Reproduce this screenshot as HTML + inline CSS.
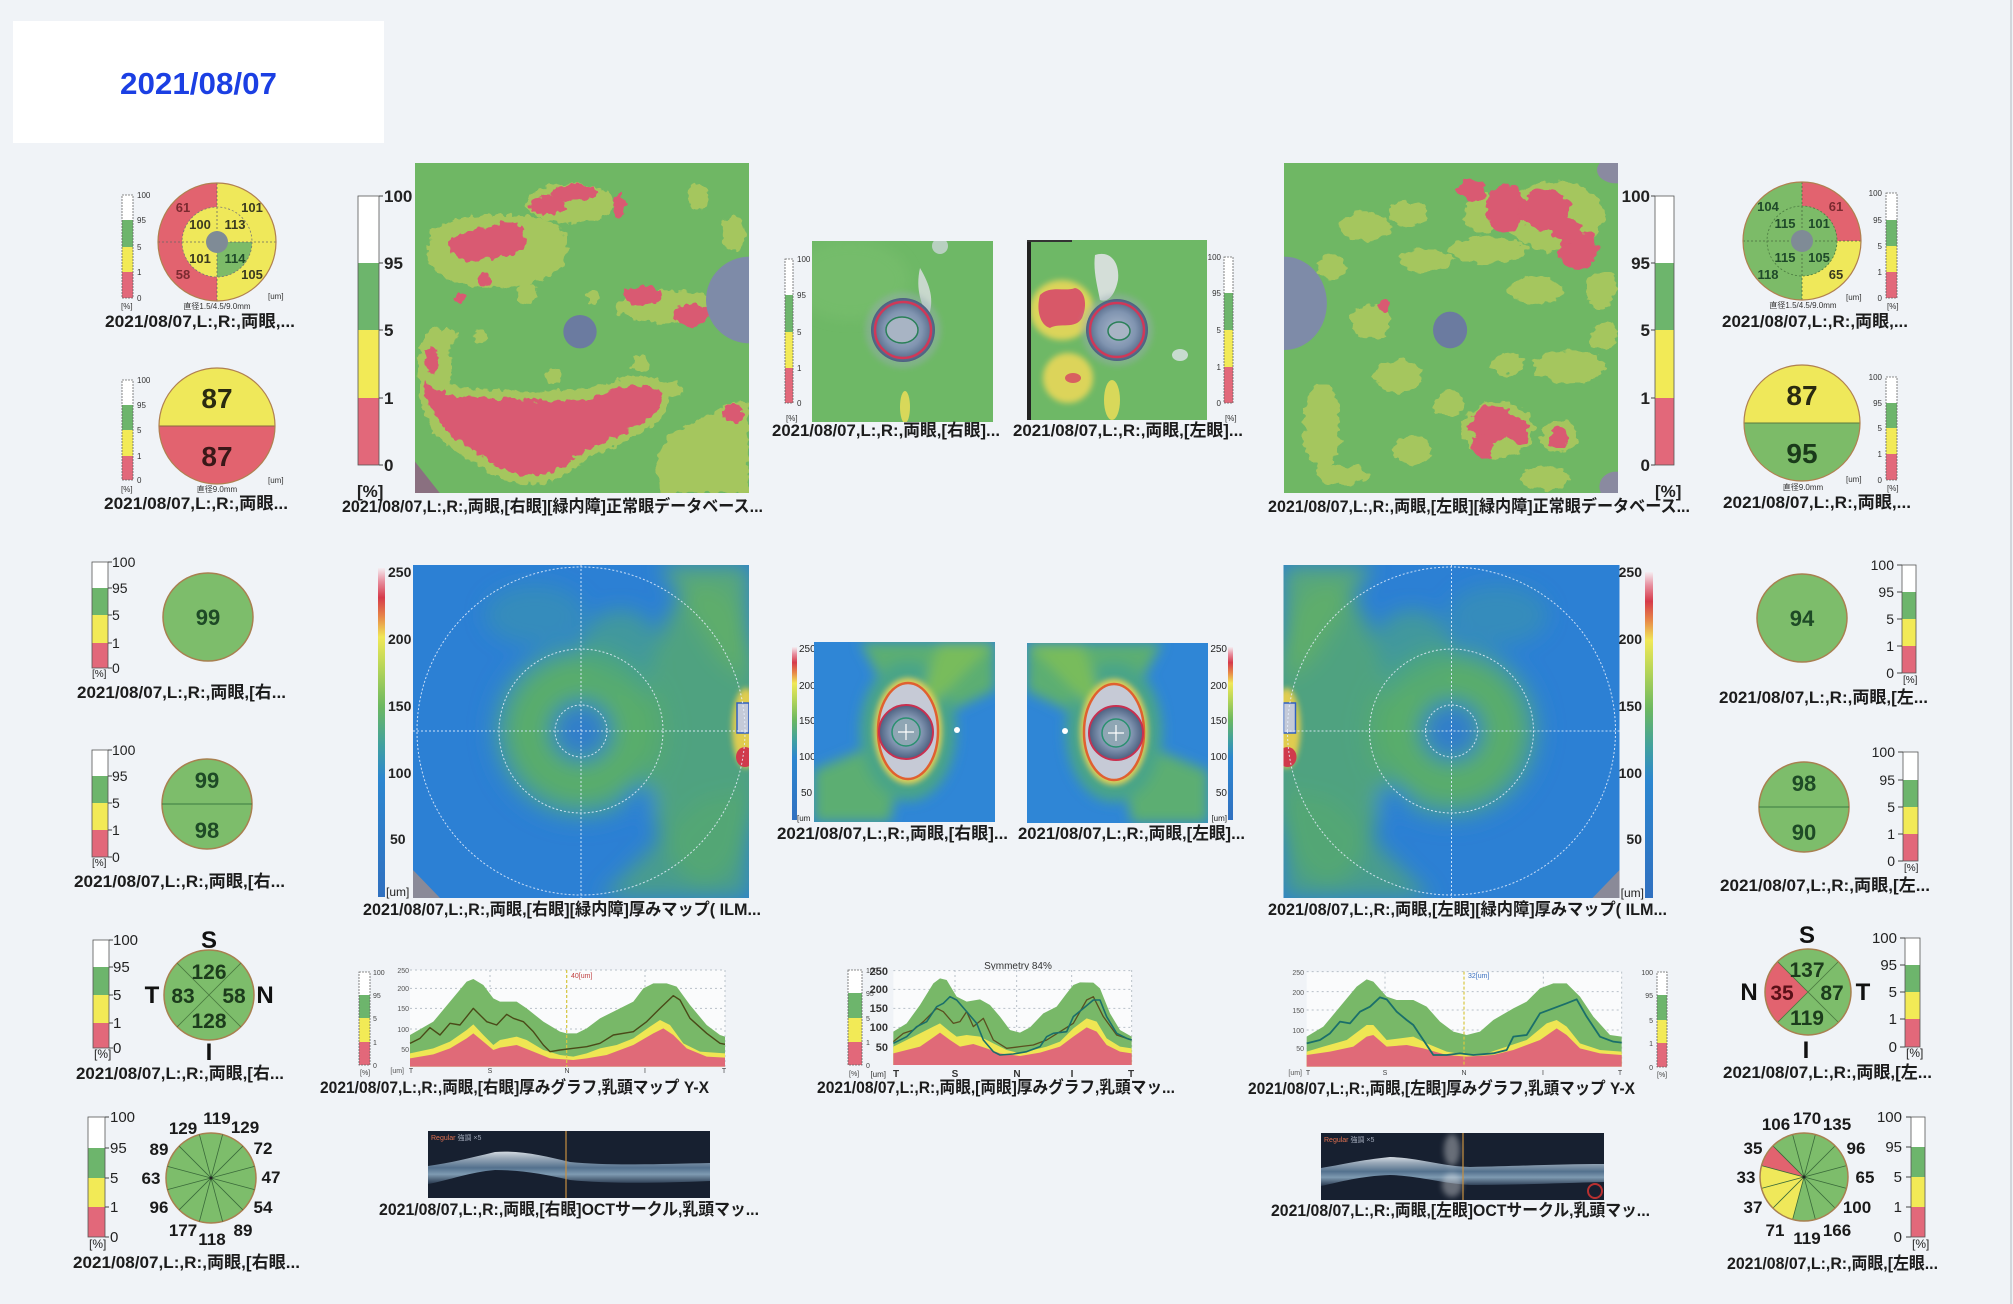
<!DOCTYPE html>
<html><head><meta charset="utf-8">
<style>
html,body{margin:0;padding:0;background:#f0f3f7;}
svg{display:block}
.c{font-family:"Liberation Sans","Noto Sans CJK JP",sans-serif;font-weight:bold;font-size:17px;fill:#1c1c1c}
.n{font-family:"Liberation Sans","Noto Sans CJK JP",sans-serif}
.b{font-weight:bold}
.w{fill:#fff}.g{fill:#6db56c}.y{fill:#f2ea56}.r{fill:#e2687a}
.o{fill:none;stroke:#555;stroke-width:.8}
.od{fill:none;stroke:#666;stroke-width:.8;stroke-dasharray:2 1}
.ns{vector-effect:non-scaling-stroke}
</style></head><body>
<svg width="2013" height="1304" viewBox="0 0 2013 1304" xmlns="http://www.w3.org/2000/svg">
<defs>
<filter id="rag" x="-20%" y="-20%" width="140%" height="140%"><feTurbulence type="fractalNoise" baseFrequency="0.045" numOctaves="2" seed="4" result="t"/><feDisplacementMap in="SourceGraphic" in2="t" scale="30" xChannelSelector="R" yChannelSelector="G"/></filter>
<filter id="bl10" x="-40%" y="-40%" width="180%" height="180%"><feGaussianBlur stdDeviation="10"/></filter>
<filter id="bl6" x="-40%" y="-40%" width="180%" height="180%"><feGaussianBlur stdDeviation="6"/></filter>
<filter id="bl3" x="-40%" y="-40%" width="180%" height="180%"><feGaussianBlur stdDeviation="3"/></filter>
<linearGradient id="tg" x1="0" y1="0" x2="0" y2="1">
<stop offset="0" stop-color="#f4eef2"/><stop offset=".04" stop-color="#e890a0"/><stop offset=".09" stop-color="#d63a4a"/><stop offset=".15" stop-color="#e88a48"/><stop offset=".21" stop-color="#f0e858"/><stop offset=".3" stop-color="#b8d658"/><stop offset=".42" stop-color="#6cb860"/><stop offset=".54" stop-color="#40a0a0"/><stop offset=".64" stop-color="#2c86d0"/><stop offset="1" stop-color="#3070c0"/>
</linearGradient>
<radialGradient id="ringT" cx=".5" cy=".5" r=".5">
<stop offset="0" stop-color="#2f7ccc"/><stop offset=".26" stop-color="#3280c8"/><stop offset=".32" stop-color="#45a090"/><stop offset=".45" stop-color="#5cae68"/><stop offset=".7" stop-color="#58ac6c"/><stop offset=".88" stop-color="#3f96a8"/><stop offset="1" stop-color="#2c80d4" stop-opacity="0"/>
</radialGradient>
<radialGradient id="dg" cx=".5" cy=".5" r=".5">
<stop offset="0" stop-color="#aab8cc"/><stop offset=".6" stop-color="#8094b0"/><stop offset="1" stop-color="#4c6080"/>
</radialGradient>
<linearGradient id="octg" x1="0" y1="0" x2="0" y2="1">
<stop offset="0" stop-color="#e8eef4"/><stop offset=".2" stop-color="#a8b8c8"/><stop offset=".5" stop-color="#5a7a98"/><stop offset=".7" stop-color="#8aa8c0"/><stop offset="1" stop-color="#2a3a50"/>
</linearGradient>
<clipPath id="cm1"><rect x="415" y="163" width="334" height="330"/></clipPath>
<clipPath id="cm2"><rect x="1284" y="163" width="334" height="330"/></clipPath>
<clipPath id="cda"><rect x="812" y="241" width="181" height="181"/></clipPath>
<clipPath id="cdb"><rect x="1027" y="240" width="180" height="180"/></clipPath>
<clipPath id="ct1"><rect x="413" y="565" width="336" height="333"/></clipPath>
<clipPath id="cta"><rect x="814" y="642" width="181" height="180"/></clipPath>

<g id="T1"><g clip-path="url(#ct1)">
<rect x="413" y="565" width="336" height="333" fill="#2c80d4"/>
<g filter="url(#bl10)">
<circle cx="581" cy="731" r="95" fill="url(#ringT)"/>
<ellipse cx="705" cy="735" rx="60" ry="150" fill="#58ab6a" opacity=".8"/>
<path d="M600,898 L700,800 L749,790 L749,898 Z" fill="#56a870" opacity=".7"/>
<path d="M660,565 L749,565 L749,680 L720,660 Z" fill="#62b066" opacity=".8"/>
<ellipse cx="640" cy="800" rx="16" ry="11" fill="#2c80d4"/>
<ellipse cx="535" cy="615" rx="50" ry="30" fill="#3c98a4" opacity=".5"/>
<ellipse cx="620" cy="650" rx="40" ry="40" fill="#50a878" opacity=".6"/>
</g>
<ellipse cx="746" cy="728" rx="14" ry="40" fill="#e0cc50" filter="url(#bl3)"/>
<rect x="737" y="703" width="12" height="30" fill="#c4cad8" stroke="#3060c0" stroke-width="1.5"/>
<ellipse cx="745" cy="757" rx="9" ry="10" fill="#d03a4c"/>
<path d="M413,870 L440,898 L413,898 Z" fill="#8a8a98"/>
<g fill="none" stroke="#e8f0ff" stroke-width="1" stroke-dasharray="2 2" opacity=".85">
<circle cx="581" cy="731" r="164"/><circle cx="581" cy="731" r="82"/><circle cx="581" cy="731" r="26"/>
<path d="M413,731H749M581,565V898"/>
</g>
</g></g>

<g id="TA"><g clip-path="url(#cta)">
<rect x="814" y="642" width="181" height="180" fill="#2f86d6"/>
<g filter="url(#bl6)">
<path d="M908,731 L860,642 L995,642 L995,690 Z" fill="#5cae72"/>
<path d="M908,731 L814,770 L814,822 L890,822 Z" fill="#5cae72"/>
<ellipse cx="908" cy="731" rx="48" ry="70" fill="#4aa488"/>
<path d="M908,731 L940,642 L995,642 Z" fill="#78bc5c"/>
</g>
<ellipse cx="908" cy="731" rx="34" ry="53" fill="#e2d058" filter="url(#bl3)"/>
<ellipse cx="908" cy="731" rx="30" ry="48" fill="#c6cad6" stroke="#e06030" stroke-width="2.5"/>
<circle cx="906" cy="732" r="27" fill="url(#dg)" stroke="#c83050" stroke-width="2"/>
<circle cx="906" cy="732" r="14" fill="#8fa6b4" stroke="#2a9070" stroke-width="1.5"/>
<path d="M906,724v16M898,732h16" stroke="#fff" stroke-width="1.2"/>
<circle cx="957" cy="730" r="3" fill="#fff"/>
</g></g>
</defs>

<rect x="0" y="0" width="2013" height="1304" fill="#f0f3f7"/>
<line x1="2011" y1="0" x2="2011" y2="1304" stroke="#c8ccd2" stroke-width="1.5"/>

<!-- date box -->
<rect x="13" y="21" width="371" height="122" fill="#fff"/>
<text x="120" y="94" class="n b" font-size="31" fill="#1b3fe3" textLength="157" lengthAdjust="spacingAndGlyphs">2021/08/07</text>

<!-- ============ TOP LEFT DONUT ============ -->
<g>
<rect class="w" x="122" y="195" width="11" height="25"/><rect class="g" x="122" y="220" width="11" height="27"/><rect class="y" x="122" y="247" width="11" height="25"/><rect class="r" x="122" y="272" width="11" height="26"/><rect class="od" x="122" y="195" width="11" height="103"/>
<g class="n" font-size="8" fill="#333"><text x="137" y="198">100</text><text x="137" y="223">95</text><text x="137" y="250">5</text><text x="137" y="275">1</text><text x="137" y="301">0</text><text x="121" y="309">[%]</text></g>
<path d="M217,183 A59,59 0 0,0 217,301 Z" fill="#e2636f"/>
<path d="M217,183 A59,59 0 0,1 217,301 Z" fill="#efe85a"/>
<path d="M217,242 L182,242 A35,35 0 0,1 217,207 Z" fill="#efe85a"/>
<path d="M217,242 L217,207 A35,35 0 0,1 252,242 Z" fill="#efe85a"/>
<path d="M217,242 L252,242 A35,35 0 0,1 217,277 Z" fill="#7cbb68"/>
<path d="M217,242 L217,277 A35,35 0 0,1 182,242 Z" fill="#efe85a"/>
<circle cx="217" cy="242" r="35" fill="none" stroke="#777" stroke-width=".8" stroke-dasharray="2 2"/>
<path d="M158,242H276M217,183V301" stroke="#666" stroke-width=".8" stroke-dasharray="2 2"/>
<circle cx="217" cy="242" r="11" fill="#7f8b96"/>
<circle cx="217" cy="242" r="59" fill="none" stroke="#b08050" stroke-width="1.2"/>
<g class="n b" font-size="13" text-anchor="middle">
<text x="183" y="212" fill="#7b2a30">61</text><text x="252" y="212" fill="#3a3a20">101</text>
<text x="200" y="229" fill="#3a3a20">100</text><text x="235" y="229" fill="#3a3a20">113</text>
<text x="200" y="263" fill="#3a3a20">101</text><text x="235" y="263" fill="#1f4a2a">114</text>
<text x="183" y="279" fill="#7b2a30">58</text><text x="252" y="279" fill="#3a3a20">105</text>
</g>
<text x="217" y="309" class="n" font-size="8" text-anchor="middle" fill="#333">直径1.5/4.5/9.0mm</text>
<text x="268" y="299" class="n" font-size="8" fill="#333">[um]</text>
</g>
<text x="105" y="327" class="c" textLength="190" lengthAdjust="spacingAndGlyphs">2021/08/07,L:,R:,両眼,...</text>

<!-- TOP LEFT HALF -->
<g>
<rect class="w" x="122" y="380" width="11" height="25"/><rect class="g" x="122" y="405" width="11" height="25"/><rect class="y" x="122" y="430" width="11" height="26"/><rect class="r" x="122" y="456" width="11" height="24"/><rect class="od" x="122" y="380" width="11" height="100"/>
<g class="n" font-size="8" fill="#333"><text x="137" y="383">100</text><text x="137" y="408">95</text><text x="137" y="433">5</text><text x="137" y="459">1</text><text x="137" y="483">0</text><text x="121" y="492">[%]</text></g>
<path d="M159,426 A58,58 0 0,1 275,426 Z" fill="#efe85a"/>
<path d="M159,426 A58,58 0 0,0 275,426 Z" fill="#e2636f"/>
<line x1="159" y1="426" x2="275" y2="426" stroke="#8a6a40" stroke-width="1"/>
<circle cx="217" cy="426" r="58" fill="none" stroke="#b08050" stroke-width="1.2"/>
<text x="217" y="408" class="n b" font-size="28" text-anchor="middle" fill="#2a2a10">87</text>
<text x="217" y="466" class="n b" font-size="28" text-anchor="middle" fill="#3a1818">87</text>
<text x="217" y="492" class="n" font-size="8" text-anchor="middle" fill="#333">直径9.0mm</text>
<text x="268" y="483" class="n" font-size="8" fill="#333">[um]</text>
</g>
<text x="104" y="509" class="c" textLength="184" lengthAdjust="spacingAndGlyphs">2021/08/07,L:,R:,両眼...</text>

<!-- ============ MAP 1 ============ -->
<rect class="w" x="358" y="196" width="21" height="67"/><rect class="g" x="358" y="263" width="21" height="67"/><rect class="y" x="358" y="330" width="21" height="68"/><rect class="r" x="358" y="398" width="21" height="67"/><rect class="o" x="358" y="196" width="21" height="269"/>
<path d="M379,196h4M379,263h4M379,330h4M379,398h4M379,465h4" stroke="#444"/>
<g class="n b" font-size="17" fill="#222"><text x="384" y="202">100</text><text x="384" y="269">95</text><text x="384" y="336">5</text><text x="384" y="404">1</text><text x="384" y="471">0</text><text x="357" y="497">[%]</text></g>
<g clip-path="url(#cm1)">
<rect x="415" y="163" width="334" height="330" fill="#6fb764"/>
<g transform="translate(340,150) scale(0.33333)">
<g filter="url(#rag)" fill="#d2d45a" opacity=".55">
<path d="M270,240 C340,195 480,185 600,205 C680,220 700,290 670,345 C620,400 520,420 430,412 C340,405 270,370 262,320 Z"/>
<ellipse cx="690" cy="160" rx="130" ry="60"/>
<ellipse cx="285" cy="650" rx="50" ry="120"/>
<path d="M240,670 C300,710 380,718 480,718 C600,728 720,728 800,700 C870,672 940,672 990,705 C1005,780 940,830 875,865 C800,895 740,925 690,965 C620,1015 520,1015 455,970 C385,930 305,885 268,820 C240,770 232,720 240,670 Z"/>
<ellipse cx="980" cy="470" rx="150" ry="50"/>
<path d="M960,890 C1010,830 1080,810 1150,770 C1200,745 1225,750 1225,770 L1225,1030 L970,1030 C945,980 945,930 960,890 Z"/>
<ellipse cx="1075" cy="140" rx="30" ry="40"/>
<ellipse cx="1180" cy="250" rx="35" ry="55"/>
<circle cx="560" cy="430" r="30"/><circle cx="640" cy="680" r="22"/><circle cx="900" cy="640" r="25"/><circle cx="330" cy="560" r="25"/><circle cx="1000" cy="720" r="25"/><circle cx="420" cy="560" r="20"/><circle cx="760" cy="440" r="20"/>
</g>
<g filter="url(#rag)" fill="#d95a72">
<path d="M258,690 C300,740 380,748 480,745 C600,758 720,758 800,728 C860,700 930,700 968,728 C985,770 930,815 860,845 C790,878 730,900 690,935 C630,985 530,990 465,945 C400,905 330,865 292,805 C262,760 250,725 258,690 Z"/>
<path d="M330,268 C380,242 445,232 498,214 C548,212 572,258 548,300 C502,322 432,330 372,336 C332,322 318,296 330,268 Z"/>
<ellipse cx="625" cy="165" rx="55" ry="30"/><ellipse cx="705" cy="128" rx="70" ry="25"/><ellipse cx="838" cy="165" rx="18" ry="38"/>
<ellipse cx="905" cy="437" rx="55" ry="30"/><ellipse cx="1055" cy="495" rx="55" ry="35"/>
<ellipse cx="275" cy="630" rx="22" ry="40"/>
<circle cx="1180" cy="790" r="28"/><circle cx="430" cy="390" r="20"/><circle cx="360" cy="440" r="15"/>
</g>
<circle cx="720" cy="545" r="50" fill="#6b7ba0"/>
<circle cx="1228" cy="450" r="130" fill="#7e8ba8"/>
<path d="M225,935 L300,1030 L225,1030 Z" fill="#8a7080"/>
</g>
</g>
<text x="342" y="512" class="c" textLength="421" lengthAdjust="spacingAndGlyphs">2021/08/07,L:,R:,両眼,[右眼][緑内障]正常眼データベース...</text>

<!-- ============ DISC MAP A (top) ============ -->
<rect class="w" x="785" y="259" width="8" height="36"/><rect class="g" x="785" y="295" width="8" height="37"/><rect class="y" x="785" y="332" width="8" height="36"/><rect class="r" x="785" y="368" width="8" height="35"/><rect class="od" x="785" y="259" width="8" height="144"/>
<g class="n" font-size="8" fill="#333"><text x="797" y="262">100</text><text x="797" y="298">95</text><text x="797" y="335">5</text><text x="797" y="371">1</text><text x="797" y="406">0</text><text x="786" y="421">[%]</text></g>
<g clip-path="url(#cda)">
<rect x="812" y="241" width="181" height="181" fill="#6eb866"/>
<ellipse cx="850" cy="280" rx="60" ry="40" fill="#7cc070" opacity=".5" filter="url(#bl6)"/>
<path d="M920,268 C930,285 935,300 928,318 C922,305 915,290 920,268 Z" fill="#c8d8cc"/>
<ellipse cx="940" cy="246" rx="8" ry="8" fill="#b8d0c0"/>
<ellipse cx="905" cy="407" rx="5" ry="16" fill="#d8d85a"/>
<circle cx="903" cy="330" r="38" fill="#9aacb4" opacity=".45" filter="url(#bl3)"/>
<circle cx="903" cy="330" r="32" fill="url(#dg)"/>
<circle cx="903" cy="330" r="28" fill="none" stroke="#d03858" stroke-width="2.5"/>
<ellipse cx="902" cy="330" rx="16" ry="13" fill="#a8b4c4" stroke="#2a8058" stroke-width="1.5"/>
</g>
<text x="772" y="436" class="c" textLength="228" lengthAdjust="spacingAndGlyphs">2021/08/07,L:,R:,両眼,[右眼]...</text>

<!-- ============ DISC MAP B (top) ============ -->
<rect class="w" x="1224" y="257" width="9" height="36"/><rect class="g" x="1224" y="293" width="9" height="37"/><rect class="y" x="1224" y="330" width="9" height="37"/><rect class="r" x="1224" y="367" width="9" height="36"/><rect class="od" x="1224" y="257" width="9" height="146"/>
<g class="n" font-size="8" fill="#333" text-anchor="end"><text x="1221" y="260">100</text><text x="1221" y="296">95</text><text x="1221" y="333">5</text><text x="1221" y="370">1</text><text x="1221" y="406">0</text></g>
<text x="1225" y="421" class="n" font-size="8" fill="#333">[%]</text>
<g clip-path="url(#cdb)">
<rect x="1027" y="240" width="180" height="180" fill="#6eb866"/>
<ellipse cx="1062" cy="310" rx="32" ry="30" fill="#dcd45a" filter="url(#bl3)"/>
<path d="M1040,295 C1050,285 1065,292 1075,288 C1085,290 1088,305 1082,318 C1075,330 1060,322 1050,328 C1040,325 1036,310 1040,295 Z" fill="#d85868"/>
<ellipse cx="1068" cy="378" rx="25" ry="25" fill="#dcd45a" filter="url(#bl3)"/>
<ellipse cx="1073" cy="378" rx="8" ry="5" fill="#d86060"/>
<ellipse cx="1112" cy="400" rx="8" ry="20" fill="#d8d85a"/>
<path d="M1095,255 C1110,250 1120,262 1118,280 C1115,295 1108,303 1100,300 C1097,285 1093,270 1095,255 Z" fill="#d4ded8"/>
<ellipse cx="1180" cy="355" rx="8" ry="6" fill="#c8dcd0"/>
<circle cx="1117" cy="330" r="36" fill="#9aacb4" opacity=".45" filter="url(#bl3)"/>
<circle cx="1117" cy="330" r="31" fill="url(#dg)"/>
<circle cx="1117" cy="330" r="27" fill="none" stroke="#d03858" stroke-width="2.5"/>
<ellipse cx="1119" cy="331" rx="11" ry="9" fill="#a8b4c4" stroke="#2a8058" stroke-width="1.5"/>
<rect x="1027" y="240" width="4" height="180" fill="#222"/>
<rect x="1027" y="240" width="45" height="2" fill="#333"/>
</g>
<text x="1013" y="436" class="c" textLength="230" lengthAdjust="spacingAndGlyphs">2021/08/07,L:,R:,両眼,[左眼]...</text>

<!-- ============ MAP 2 ============ -->
<rect class="w" x="1655" y="196" width="19" height="67"/><rect class="g" x="1655" y="263" width="19" height="67"/><rect class="y" x="1655" y="330" width="19" height="68"/><rect class="r" x="1655" y="398" width="19" height="67"/><rect class="o" x="1655" y="196" width="19" height="269"/>
<path d="M1655,196h-4M1655,263h-4M1655,330h-4M1655,398h-4M1655,465h-4" stroke="#444"/>
<g class="n b" font-size="17" fill="#222" text-anchor="end"><text x="1650" y="202">100</text><text x="1650" y="269">95</text><text x="1650" y="336">5</text><text x="1650" y="404">1</text><text x="1650" y="471">0</text></g>
<text x="1655" y="497" class="n b" font-size="17" fill="#222">[%]</text>
<g clip-path="url(#cm2)">
<rect x="1284" y="163" width="334" height="330" fill="#6fb764"/>
<g transform="translate(1270,150) scale(0.4739,0.33333)">
<g filter="url(#rag)" fill="#d2d45a" opacity=".55">
<ellipse cx="200" cy="230" rx="55" ry="45"/><ellipse cx="290" cy="190" rx="40" ry="35"/><ellipse cx="215" cy="515" rx="45" ry="50"/><ellipse cx="270" cy="680" rx="50" ry="50"/><ellipse cx="110" cy="830" rx="40" ry="130"/><ellipse cx="150" cy="975" rx="55" ry="30"/><ellipse cx="460" cy="300" rx="80" ry="40"/><ellipse cx="560" cy="420" rx="55" ry="40"/><ellipse cx="630" cy="650" rx="75" ry="50"/><ellipse cx="330" cy="330" rx="55" ry="35"/><ellipse cx="300" cy="900" rx="40" ry="45"/><ellipse cx="500" cy="640" rx="35" ry="35"/><ellipse cx="705" cy="560" rx="28" ry="40"/><ellipse cx="580" cy="985" rx="50" ry="35"/><ellipse cx="450" cy="190" rx="40" ry="60"/><ellipse cx="600" cy="200" rx="105" ry="105"/><ellipse cx="480" cy="840" rx="75" ry="85"/><ellipse cx="610" cy="860" rx="38" ry="50"/><ellipse cx="130" cy="350" rx="28" ry="36"/><ellipse cx="380" cy="760" rx="32" ry="36"/><ellipse cx="700" cy="420" rx="32" ry="55"/>
</g>
<g filter="url(#rag)" fill="#d95a72">
<ellipse cx="425" cy="120" rx="28" ry="35"/><ellipse cx="495" cy="175" rx="40" ry="75"/><ellipse cx="580" cy="180" rx="55" ry="60"/><ellipse cx="650" cy="300" rx="40" ry="60"/><ellipse cx="625" cy="240" rx="30" ry="40"/><ellipse cx="470" cy="820" rx="50" ry="55"/><ellipse cx="448" cy="890" rx="22" ry="40"/><ellipse cx="525" cy="845" rx="22" ry="35"/><ellipse cx="610" cy="865" rx="20" ry="35"/><ellipse cx="240" cy="470" rx="12" ry="20"/>
</g>
<ellipse cx="380" cy="540" rx="36" ry="55" fill="#6b7ba0"/>
<ellipse cx="30" cy="460" rx="90" ry="140" fill="#7e8ba8"/>
<ellipse cx="730" cy="60" rx="40" ry="40" fill="#8a8aa0"/>
<ellipse cx="730" cy="1010" rx="35" ry="45" fill="#8a8aa0"/>
</g>
</g>
<text x="1268" y="512" class="c" textLength="422" lengthAdjust="spacingAndGlyphs">2021/08/07,L:,R:,両眼,[左眼][緑内障]正常眼データベース...</text>

<!-- ============ TOP RIGHT DONUT ============ -->
<rect class="w" x="1886" y="193" width="11" height="27"/><rect class="g" x="1886" y="220" width="11" height="26"/><rect class="y" x="1886" y="246" width="11" height="26"/><rect class="r" x="1886" y="272" width="11" height="26"/><rect class="od" x="1886" y="193" width="11" height="105"/>
<g class="n" font-size="8" fill="#333" text-anchor="end"><text x="1882" y="196">100</text><text x="1882" y="223">95</text><text x="1882" y="249">5</text><text x="1882" y="275">1</text><text x="1882" y="301">0</text></g>
<text x="1887" y="309" class="n" font-size="8" fill="#333">[%]</text>
<path d="M1802,241 L1743,241 A59,59 0 0,1 1802,182 Z" fill="#7cbb68"/>
<path d="M1802,241 L1802,182 A59,59 0 0,1 1861,241 Z" fill="#e2636f"/>
<path d="M1802,241 L1861,241 A59,59 0 0,1 1802,300 Z" fill="#efe85a"/>
<path d="M1802,241 L1802,300 A59,59 0 0,1 1743,241 Z" fill="#7cbb68"/>
<circle cx="1802" cy="241" r="35" fill="#7cbb68" stroke="#4a7a40" stroke-width=".8" stroke-dasharray="2 2"/>
<path d="M1743,241H1861M1802,182V300" stroke="#4a6a40" stroke-width=".8" stroke-dasharray="2 2"/>
<circle cx="1802" cy="241" r="11" fill="#7f8b96"/>
<circle cx="1802" cy="241" r="59" fill="none" stroke="#b08050" stroke-width="1.2"/>
<g class="n b" font-size="13" text-anchor="middle" fill="#1f4a2a">
<text x="1768" y="211">104</text><text x="1836" y="211" fill="#7b2a30">61</text>
<text x="1785" y="228">115</text><text x="1819" y="228">101</text>
<text x="1785" y="262">115</text><text x="1819" y="262">105</text>
<text x="1768" y="279">118</text><text x="1836" y="279" fill="#3a3a20">65</text>
</g>
<text x="1803" y="308" class="n" font-size="8" text-anchor="middle" fill="#333">直径1.5/4.5/9.0mm</text>
<text x="1846" y="300" class="n" font-size="8" fill="#333">[um]</text>
<text x="1722" y="327" class="c" textLength="186" lengthAdjust="spacingAndGlyphs">2021/08/07,L:,R:,両眼,...</text>

<!-- TOP RIGHT HALF -->
<rect class="w" x="1886" y="377" width="11" height="26"/><rect class="g" x="1886" y="403" width="11" height="25"/><rect class="y" x="1886" y="428" width="11" height="26"/><rect class="r" x="1886" y="454" width="11" height="26"/><rect class="od" x="1886" y="377" width="11" height="103"/>
<g class="n" font-size="8" fill="#333" text-anchor="end"><text x="1882" y="380">100</text><text x="1882" y="406">95</text><text x="1882" y="431">5</text><text x="1882" y="457">1</text><text x="1882" y="483">0</text></g>
<text x="1887" y="491" class="n" font-size="8" fill="#333">[%]</text>
<path d="M1744,423 A58,58 0 0,1 1860,423 Z" fill="#efe85a"/>
<path d="M1744,423 A58,58 0 0,0 1860,423 Z" fill="#7cbb68"/>
<line x1="1744" y1="423" x2="1860" y2="423" stroke="#5a7a40" stroke-width="1"/>
<circle cx="1802" cy="423" r="58" fill="none" stroke="#b08050" stroke-width="1.2"/>
<text x="1802" y="405" class="n b" font-size="28" text-anchor="middle" fill="#2a2a10">87</text>
<text x="1802" y="463" class="n b" font-size="28" text-anchor="middle" fill="#1a3a1a">95</text>
<text x="1803" y="490" class="n" font-size="8" text-anchor="middle" fill="#333">直径9.0mm</text>
<text x="1846" y="482" class="n" font-size="8" fill="#333">[um]</text>
<text x="1723" y="508" class="c" textLength="188" lengthAdjust="spacingAndGlyphs">2021/08/07,L:,R:,両眼,...</text>

<!-- ============ MIDDLE LEFT CIRCLES ============ -->
<rect class="w" x="92" y="562" width="16" height="26"/><rect class="g" x="92" y="588" width="16" height="27"/><rect class="y" x="92" y="615" width="16" height="28"/><rect class="r" x="92" y="643" width="16" height="25"/><rect class="o" x="92" y="562" width="16" height="106"/>
<path d="M108,562h4M108,588h4M108,615h4M108,643h4M108,668h4" stroke="#444"/>
<g class="n" font-size="14" fill="#222"><text x="112" y="567">100</text><text x="112" y="593">95</text><text x="112" y="620">5</text><text x="112" y="648">1</text><text x="112" y="673">0</text><text x="92" y="677" font-size="10">[%]</text></g>
<ellipse cx="208" cy="617" rx="45" ry="44" fill="#7dbd6b" stroke="#a88050" stroke-width="1.5"/>
<text x="208" y="625" class="n b" font-size="22" text-anchor="middle" fill="#1e4a26">99</text>
<text x="77" y="698" class="c" textLength="209" lengthAdjust="spacingAndGlyphs">2021/08/07,L:,R:,両眼,[右...</text>

<rect class="w" x="92" y="750" width="16" height="26"/><rect class="g" x="92" y="776" width="16" height="27"/><rect class="y" x="92" y="803" width="16" height="27"/><rect class="r" x="92" y="830" width="16" height="27"/><rect class="o" x="92" y="750" width="16" height="107"/>
<path d="M108,750h4M108,776h4M108,803h4M108,830h4M108,857h4" stroke="#444"/>
<g class="n" font-size="14" fill="#222"><text x="112" y="755">100</text><text x="112" y="781">95</text><text x="112" y="808">5</text><text x="112" y="835">1</text><text x="112" y="862">0</text><text x="92" y="866" font-size="10">[%]</text></g>
<ellipse cx="207" cy="804" rx="45" ry="45" fill="#7dbd6b" stroke="#a88050" stroke-width="1.5"/>
<line x1="162" y1="804" x2="252" y2="804" stroke="#3a7a40" stroke-width="1"/>
<text x="207" y="788" class="n b" font-size="22" text-anchor="middle" fill="#1e4a26">99</text>
<text x="207" y="838" class="n b" font-size="22" text-anchor="middle" fill="#1e4a26">98</text>
<text x="74" y="887" class="c" textLength="211" lengthAdjust="spacingAndGlyphs">2021/08/07,L:,R:,両眼,[右...</text>

<!-- ============ THICKNESS MAP 1 ============ -->
<rect x="378" y="568" width="7" height="329" fill="url(#tg)"/>
<g class="n b" font-size="14" fill="#222"><text x="388" y="577">250</text><text x="388" y="644">200</text><text x="388" y="711">150</text><text x="388" y="778">100</text><text x="390" y="844">50</text><text x="386" y="896" font-size="12" font-weight="normal">[um]</text></g>
<use href="#T1"/>
<text x="363" y="915" class="c" textLength="398" lengthAdjust="spacingAndGlyphs">2021/08/07,L:,R:,両眼,[右眼][緑内障]厚みマップ( ILM...</text>

<!-- small thickness A -->
<rect x="792" y="647" width="5" height="173" fill="url(#tg)"/>
<g class="n" font-size="10" fill="#222"><text x="799" y="652">250</text><text x="799" y="689">200</text><text x="799" y="724">150</text><text x="799" y="760">100</text><text x="801" y="796">50</text><text x="797" y="821" font-size="8">[um</text></g>
<use href="#TA"/>
<text x="777" y="839" class="c" textLength="231" lengthAdjust="spacingAndGlyphs">2021/08/07,L:,R:,両眼,[右眼]...</text>

<!-- small thickness B -->
<use href="#TA" transform="translate(2022,1) scale(-1,1)"/>
<rect x="1228" y="647" width="5" height="173" fill="url(#tg)"/>
<g class="n" font-size="10" fill="#222" text-anchor="end"><text x="1227" y="652">250</text><text x="1227" y="689">200</text><text x="1227" y="724">150</text><text x="1227" y="760">100</text><text x="1227" y="796">50</text><text x="1227" y="821" font-size="8">[um]</text></g>
<text x="1018" y="839" class="c" textLength="227" lengthAdjust="spacingAndGlyphs">2021/08/07,L:,R:,両眼,[左眼]...</text>

<!-- ============ THICKNESS MAP 2 ============ -->
<use href="#T1" transform="translate(2032.5,0) scale(-1,1)"/>
<rect x="1645" y="572" width="8" height="326" fill="url(#tg)"/>
<g class="n b" font-size="14" fill="#222" text-anchor="end"><text x="1642" y="577">250</text><text x="1642" y="644">200</text><text x="1642" y="711">150</text><text x="1642" y="778">100</text><text x="1642" y="844">50</text><text x="1644" y="897" font-size="12" font-weight="normal">[um]</text></g>
<text x="1268" y="915" class="c" textLength="399" lengthAdjust="spacingAndGlyphs">2021/08/07,L:,R:,両眼,[左眼][緑内障]厚みマップ( ILM...</text>

<!-- ============ MIDDLE RIGHT CIRCLES ============ -->
<rect class="w" x="1902" y="565" width="14" height="27"/><rect class="g" x="1902" y="592" width="14" height="27"/><rect class="y" x="1902" y="619" width="14" height="27"/><rect class="r" x="1902" y="646" width="14" height="27"/><rect class="o" x="1902" y="565" width="14" height="108"/>
<path d="M1902,565h-5M1902,592h-5M1902,619h-5M1902,646h-5M1902,673h-5" stroke="#444"/>
<g class="n" font-size="14" fill="#222" text-anchor="end"><text x="1894" y="570">100</text><text x="1894" y="597">95</text><text x="1894" y="624">5</text><text x="1894" y="651">1</text><text x="1894" y="678">0</text></g>
<text x="1903" y="683" class="n" font-size="10" fill="#222">[%]</text>
<ellipse cx="1802" cy="618" rx="45" ry="44" fill="#7dbd6b" stroke="#a88050" stroke-width="1.5"/>
<text x="1802" y="626" class="n b" font-size="22" text-anchor="middle" fill="#1e4a26">94</text>
<text x="1719" y="703" class="c" textLength="209" lengthAdjust="spacingAndGlyphs">2021/08/07,L:,R:,両眼,[左...</text>

<rect class="w" x="1903" y="752" width="15" height="28"/><rect class="g" x="1903" y="780" width="15" height="27"/><rect class="y" x="1903" y="807" width="15" height="27"/><rect class="r" x="1903" y="834" width="15" height="27"/><rect class="o" x="1903" y="752" width="15" height="109"/>
<path d="M1903,752h-5M1903,780h-5M1903,807h-5M1903,834h-5M1903,861h-5" stroke="#444"/>
<g class="n" font-size="14" fill="#222" text-anchor="end"><text x="1895" y="757">100</text><text x="1895" y="785">95</text><text x="1895" y="812">5</text><text x="1895" y="839">1</text><text x="1895" y="866">0</text></g>
<text x="1904" y="871" class="n" font-size="10" fill="#222">[%]</text>
<ellipse cx="1804" cy="807" rx="45" ry="45" fill="#7dbd6b" stroke="#a88050" stroke-width="1.5"/>
<line x1="1759" y1="807" x2="1849" y2="807" stroke="#3a7a40" stroke-width="1"/>
<text x="1804" y="791" class="n b" font-size="22" text-anchor="middle" fill="#1e4a26">98</text>
<text x="1804" y="840" class="n b" font-size="22" text-anchor="middle" fill="#1e4a26">90</text>
<text x="1720" y="891" class="c" textLength="210" lengthAdjust="spacingAndGlyphs">2021/08/07,L:,R:,両眼,[左...</text>

<!-- ============ BOTTOM LEFT TSNI ============ -->
<rect class="w" x="93" y="940" width="16" height="27"/><rect class="g" x="93" y="967" width="16" height="28"/><rect class="y" x="93" y="995" width="16" height="28"/><rect class="r" x="93" y="1023" width="16" height="25"/><rect class="o" x="93" y="940" width="16" height="108"/>
<path d="M109,940h4M109,967h4M109,995h4M109,1023h4M109,1048h4" stroke="#444"/>
<g class="n" font-size="15" fill="#222"><text x="113" y="945">100</text><text x="113" y="972">95</text><text x="113" y="1000">5</text><text x="113" y="1028">1</text><text x="113" y="1053">0</text><text x="94" y="1058" font-size="12">[%]</text></g>
<circle cx="209" cy="995" r="45" fill="#7dbd6b" stroke="#a88050" stroke-width="1.5"/>
<path d="M177.2,963.2L240.8,1026.8M240.8,963.2L177.2,1026.8" stroke="#4a7a40" stroke-width=".8"/>
<g class="n b" font-size="24" text-anchor="middle" fill="#111"><text x="209" y="948">S</text><text x="209" y="1060">I</text><text x="152" y="1003">T</text><text x="265" y="1003">N</text></g>
<g class="n b" font-size="21" text-anchor="middle" fill="#1c3c1c"><text x="209" y="979">126</text><text x="183" y="1003">83</text><text x="234" y="1003">58</text><text x="209" y="1028">128</text></g>
<text x="76" y="1079" class="c" textLength="208" lengthAdjust="spacingAndGlyphs">2021/08/07,L:,R:,両眼,[右...</text>

<!-- BOTTOM LEFT CLOCK -->
<rect class="w" x="88" y="1117" width="17" height="31"/><rect class="g" x="88" y="1148" width="17" height="30"/><rect class="y" x="88" y="1178" width="17" height="29"/><rect class="r" x="88" y="1207" width="17" height="30"/><rect class="o" x="88" y="1117" width="17" height="120"/>
<path d="M105,1117h4M105,1148h4M105,1178h4M105,1207h4M105,1237h4" stroke="#444"/>
<g class="n" font-size="15" fill="#222"><text x="110" y="1122">100</text><text x="110" y="1153">95</text><text x="110" y="1183">5</text><text x="110" y="1212">1</text><text x="110" y="1242">0</text><text x="89" y="1248" font-size="12">[%]</text></g>
<circle cx="211" cy="1178" r="45" fill="#7dbd6b" stroke="#a88050" stroke-width="1.5"/>
<g transform="translate(211,1178)" stroke="#3a6a3a" stroke-width=".8">
<path d="M11.6,-43.5L-11.6,43.5M31.8,-31.8L-31.8,31.8M43.5,-11.6L-43.5,11.6M43.5,11.6L-43.5,-11.6M31.8,31.8L-31.8,-31.8M11.6,43.5L-11.6,-43.5"/>
</g>
<circle cx="211" cy="1178" r="1.5" fill="#222"/>
<g class="n b" font-size="17" text-anchor="middle" fill="#1a1a1a">
<text x="217" y="1124">119</text><text x="183" y="1134">129</text><text x="245" y="1133">129</text><text x="159" y="1155">89</text><text x="263" y="1154">72</text><text x="151" y="1184">63</text><text x="271" y="1183">47</text><text x="159" y="1213">96</text><text x="263" y="1213">54</text><text x="183" y="1236">177</text><text x="212" y="1245">118</text><text x="243" y="1236">89</text>
</g>
<text x="73" y="1268" class="c" textLength="227" lengthAdjust="spacingAndGlyphs">2021/08/07,L:,R:,両眼,[右眼...</text>

<!-- ============ GRAPH 1 ============ -->
<rect class="w" x="359" y="972" width="11" height="23"/><rect class="g" x="359" y="995" width="11" height="23"/><rect class="y" x="359" y="1018" width="11" height="24"/><rect class="r" x="359" y="1042" width="11" height="23"/><rect class="od" x="359" y="972" width="11" height="93"/>
<g class="n" font-size="7" fill="#444"><text x="373" y="975">100</text><text x="373" y="998">95</text><text x="373" y="1021">5</text><text x="373" y="1045">1</text><text x="373" y="1068">0</text><text x="360" y="1075">[%]</text></g>
<g class="n" font-size="7" fill="#555" text-anchor="end"><text x="409" y="973">250</text><text x="409" y="991">200</text><text x="409" y="1011">150</text><text x="409" y="1032">100</text><text x="409" y="1052">50</text><text x="404" y="1073">[um]</text></g>
<g class="n" font-size="7" fill="#444" text-anchor="middle"><text x="411" y="1073">T</text><text x="490" y="1073">S</text><text x="567" y="1073">N</text><text x="645" y="1073">I</text><text x="724" y="1073">T</text></g>
<g transform="translate(400,955) scale(0.33333)">
<rect x="30" y="45" width="945" height="290" fill="#fafbfc"/>
<path class="ns" d="M30,45H975M30,100H975M30,160H975M30,222H975M30,282H975M270,45V335M500,45V335M735,45V335M975,45V335" fill="none" stroke="#b8c0c8" stroke-dasharray="2 3" stroke-width="1"/>
<polygon points="30,240 100,200 150,140 200,80 220,72 250,90 280,130 300,140 350,140 380,160 430,200 480,230 500,235 530,235 560,220 600,190 650,165 700,140 730,100 760,85 800,85 830,95 870,150 920,210 960,240 975,245 975,335 30,335" fill="#78b868"/>
<polygon points="30,295 100,280 150,260 200,225 220,208 250,240 280,270 300,255 350,245 380,255 430,285 480,300 520,305 560,295 600,280 650,270 700,250 750,215 780,195 810,210 850,265 900,290 975,295 975,335 30,335" fill="#efe653"/>
<polygon points="30,310 100,298 150,280 200,250 220,235 250,260 280,285 300,278 350,270 400,290 450,310 520,315 560,310 620,300 700,270 760,235 790,220 820,240 860,280 920,305 975,308 975,335 30,335" fill="#e06a78"/>
<line x1="500" y1="45" x2="500" y2="335" stroke="#d8c840" stroke-width="1.2" stroke-dasharray="3 2" class="ns"/>
<polyline points="30,265 60,250 90,218 120,240 150,205 180,210 220,160 260,200 290,210 320,178 340,190 370,200 400,230 430,270 450,290 480,285 520,280 560,275 600,265 640,240 700,230 740,200 780,160 820,122 840,135 870,190 920,235 960,265 975,268" fill="none" stroke="#4a4a18" stroke-width="1.4" stroke-linejoin="round" class="ns"/>
</g>
<text x="571" y="978" class="n" font-size="7" fill="#c04040">40[um]</text>
<text x="320" y="1093" class="c" textLength="389" lengthAdjust="spacingAndGlyphs">2021/08/07,L:,R:,両眼,[右眼]厚みグラフ,乳頭マップ Y-X</text>

<!-- ============ GRAPH 2 ============ -->
<rect class="w" x="848" y="970" width="14" height="23"/><rect class="g" x="848" y="993" width="14" height="25"/><rect class="y" x="848" y="1018" width="14" height="24"/><rect class="r" x="848" y="1042" width="14" height="23"/><rect class="od" x="848" y="970" width="14" height="95"/>
<g class="n" font-size="7" fill="#444"><text x="866" y="973">100</text><text x="866" y="996">95</text><text x="866" y="1021">5</text><text x="866" y="1045">1</text><text x="866" y="1068">0</text><text x="849" y="1076">[%]</text></g>
<g class="n b" font-size="11" fill="#333" text-anchor="end"><text x="888" y="975">250</text><text x="888" y="993">200</text><text x="888" y="1012">150</text><text x="888" y="1031">100</text><text x="888" y="1051">50</text></g>
<text x="886" y="1077" class="n" font-size="8" fill="#333" text-anchor="end">[um]</text>
<g class="n b" font-size="10" fill="#333" text-anchor="middle"><text x="896" y="1077">T</text><text x="955" y="1077">S</text><text x="1017" y="1077">N</text><text x="1072" y="1077">I</text><text x="1131" y="1077">T</text></g>
<text x="1018" y="969" class="n" font-size="10" fill="#333" text-anchor="middle">Symmetry 84%</text>
<g transform="translate(840,950) scale(0.33333)">
<rect x="160" y="60" width="715" height="285" fill="#fafbfc"/>
<path class="ns" d="M160,62H875M160,118H875M160,175H875M160,232H875M160,290H875M345,60V345M530,60V345M695,60V345M875,60V345" fill="none" stroke="#b8c0c8" stroke-dasharray="2 3" stroke-width="1"/>
<polygon points="160,245 200,220 240,165 280,100 300,85 320,90 350,140 380,155 420,148 450,165 480,200 510,240 540,248 570,232 610,190 650,170 680,130 700,105 720,97 760,98 780,115 810,190 840,240 875,260 875,345 160,345" fill="#78b868"/>
<polygon points="160,290 200,270 240,250 280,230 300,220 330,245 350,260 380,255 420,260 460,280 500,300 540,310 580,300 620,290 660,275 700,235 740,205 770,215 800,265 840,290 875,295 875,345 160,345" fill="#efe653"/>
<polygon points="160,310 200,300 240,290 280,262 300,248 330,270 360,290 400,282 440,295 480,310 540,318 600,308 660,290 700,260 740,232 770,245 800,285 840,305 875,310 875,345 160,345" fill="#e06a78"/>
<polyline points="160,275 190,250 220,240 250,215 290,175 310,185 340,220 360,215 380,185 400,230 430,205 460,270 500,295 540,290 580,285 620,270 660,245 700,220 740,150 760,140 790,200 830,255 875,270" fill="none" stroke="#5a5020" stroke-width="1.3" stroke-linejoin="round" class="ns"/>
<polyline points="160,280 200,260 230,230 260,215 290,170 310,160 330,140 350,150 380,185 410,220 430,270 460,305 480,315 520,312 560,305 600,290 620,260 640,250 680,245 700,200 730,175 760,150 780,150 800,200 830,250 860,265 875,270" fill="none" stroke="#1a6f6a" stroke-width="1.6" stroke-linejoin="round" class="ns"/>
</g>
<text x="817" y="1093" class="c" textLength="358" lengthAdjust="spacingAndGlyphs">2021/08/07,L:,R:,両眼,[両眼]厚みグラフ,乳頭マッ...</text>

<!-- ============ GRAPH 3 ============ -->
<rect class="w" x="1657" y="972" width="10" height="23"/><rect class="g" x="1657" y="995" width="10" height="25"/><rect class="y" x="1657" y="1020" width="10" height="23"/><rect class="r" x="1657" y="1043" width="10" height="24"/><rect class="od" x="1657" y="972" width="10" height="95"/>
<g class="n" font-size="7" fill="#444" text-anchor="end"><text x="1653" y="975">100</text><text x="1653" y="998">95</text><text x="1653" y="1023">5</text><text x="1653" y="1046">1</text><text x="1653" y="1070">0</text></g>
<text x="1657" y="1077" class="n" font-size="7" fill="#444">[%]</text>
<g class="n" font-size="7" fill="#555" text-anchor="end"><text x="1304" y="975">250</text><text x="1304" y="995">200</text><text x="1304" y="1013">150</text><text x="1304" y="1033">100</text><text x="1304" y="1051">50</text><text x="1302" y="1075">[um]</text></g>
<g class="n" font-size="7" fill="#444" text-anchor="middle"><text x="1308" y="1075">T</text><text x="1385" y="1075">S</text><text x="1464" y="1075">N</text><text x="1543" y="1075">I</text><text x="1620" y="1075">T</text></g>
<g transform="translate(1280,940) scale(0.33333)">
<rect x="80" y="95" width="945" height="285" fill="#fafbfc"/>
<path class="ns" d="M80,95H1025M80,155H1025M80,210H1025M80,270H1025M80,325H1025M315,95V380M552,95V380M790,95V380M1025,95V380" fill="none" stroke="#b8c0c8" stroke-dasharray="2 3" stroke-width="1"/>
<polygon points="80,290 130,260 180,200 230,140 260,118 280,125 320,170 350,180 400,180 440,200 480,245 520,275 560,285 600,275 640,240 700,205 740,185 780,145 820,130 860,130 900,170 940,230 990,285 1025,290 1025,380 80,380" fill="#78b868"/>
<polygon points="80,335 130,320 200,300 260,255 280,255 320,300 360,295 400,290 440,310 500,335 560,345 620,340 680,320 740,300 800,250 830,240 860,260 900,310 960,330 1025,335 1025,380 80,380" fill="#efe653"/>
<polygon points="80,345 150,335 220,320 260,290 280,285 320,320 380,315 430,325 500,345 560,350 640,345 700,330 780,300 830,265 860,285 900,325 960,340 1025,345 1025,380 80,380" fill="#e06a78"/>
<line x1="552" y1="95" x2="552" y2="380" stroke="#d8c840" stroke-width="1.2" stroke-dasharray="3 2" class="ns"/>
<polyline points="80,310 120,300 150,280 180,245 210,250 240,215 270,200 300,172 320,178 350,215 380,240 400,255 430,300 460,345 500,345 540,340 580,345 640,340 680,330 700,290 740,285 780,220 820,205 860,190 890,178 920,230 960,290 1000,305 1025,308" fill="none" stroke="#1a6f6a" stroke-width="1.8" stroke-linejoin="round" class="ns"/>
</g>
<text x="1468" y="978" class="n" font-size="7" fill="#3a70c0">32[um]</text>
<text x="1248" y="1094" class="c" textLength="387" lengthAdjust="spacingAndGlyphs">2021/08/07,L:,R:,両眼,[左眼]厚みグラフ,乳頭マップ Y-X</text>

<!-- ============ OCT 1 ============ -->
<rect x="428" y="1131" width="282" height="67" fill="#172030"/>
<path d="M428,1166 C450,1163 470,1158 495,1152 C520,1150 545,1156 570,1162 C610,1166 660,1164 710,1163 L710,1181 C660,1183 610,1184 570,1180 C545,1174 520,1170 495,1170 C470,1172 450,1180 428,1184 Z" fill="url(#octg)" opacity=".9"/>
<line x1="566" y1="1131" x2="566" y2="1198" stroke="#c89040" stroke-width="1.2"/>
<text x="431" y="1140" class="n" font-size="7"><tspan fill="#e07050">Regular</tspan><tspan fill="#a0a8b8"> 強調 ×5</tspan></text>
<text x="379" y="1215" class="c" textLength="380" lengthAdjust="spacingAndGlyphs">2021/08/07,L:,R:,両眼,[右眼]OCTサークル,乳頭マッ...</text>

<!-- ============ OCT 2 ============ -->
<rect x="1321" y="1133" width="283" height="67" fill="#172030"/>
<path d="M1321,1168 C1340,1165 1360,1160 1390,1157 C1420,1158 1440,1166 1470,1167 C1520,1166 1560,1164 1604,1164 L1604,1182 C1560,1183 1520,1185 1470,1185 C1440,1183 1420,1176 1390,1175 C1360,1176 1340,1182 1321,1186 Z" fill="url(#octg)" opacity=".9"/>
<ellipse cx="1452" cy="1150" rx="8" ry="16" fill="#fff" opacity=".35" filter="url(#bl3)"/>
<ellipse cx="1452" cy="1185" rx="10" ry="12" fill="#fff" opacity=".35" filter="url(#bl3)"/>
<line x1="1463" y1="1133" x2="1463" y2="1200" stroke="#c89040" stroke-width="1.2"/>
<circle cx="1595" cy="1191" r="7" fill="none" stroke="#b83030" stroke-width="2"/>
<text x="1324" y="1142" class="n" font-size="7"><tspan fill="#e07050">Regular</tspan><tspan fill="#a0a8b8"> 強調 ×5</tspan></text>
<text x="1271" y="1216" class="c" textLength="379" lengthAdjust="spacingAndGlyphs">2021/08/07,L:,R:,両眼,[左眼]OCTサークル,乳頭マッ...</text>

<!-- ============ BOTTOM RIGHT TSNI ============ -->
<rect class="w" x="1905" y="938" width="15" height="27"/><rect class="g" x="1905" y="965" width="15" height="27"/><rect class="y" x="1905" y="992" width="15" height="27"/><rect class="r" x="1905" y="1019" width="15" height="28"/><rect class="o" x="1905" y="938" width="15" height="109"/>
<path d="M1905,938h-5M1905,965h-5M1905,992h-5M1905,1019h-5M1905,1047h-5" stroke="#444"/>
<g class="n" font-size="15" fill="#222" text-anchor="end"><text x="1897" y="943">100</text><text x="1897" y="970">95</text><text x="1897" y="997">5</text><text x="1897" y="1024">1</text><text x="1897" y="1052">0</text></g>
<text x="1906" y="1057" class="n" font-size="12" fill="#222">[%]</text>
<circle cx="1808" cy="992" r="43" fill="#7dbd6b"/>
<path d="M1808,992 L1777.6,961.6 A43,43 0 0,0 1777.6,1022.4 Z" fill="#e2636f"/>
<path d="M1777.6,961.6L1838.4,1022.4M1838.4,961.6L1777.6,1022.4" stroke="#4a7a40" stroke-width=".8"/>
<circle cx="1808" cy="992" r="43" fill="none" stroke="#a88050" stroke-width="1.5"/>
<g class="n b" font-size="24" text-anchor="middle" fill="#111"><text x="1807" y="943">S</text><text x="1806" y="1058">I</text><text x="1749" y="1000">N</text><text x="1863" y="1000">T</text></g>
<g class="n b" font-size="21" text-anchor="middle" fill="#1c3c1c"><text x="1807" y="977">137</text><text x="1782" y="1000" fill="#5a1018">35</text><text x="1832" y="1000">87</text><text x="1807" y="1025">119</text></g>
<text x="1723" y="1078" class="c" textLength="209" lengthAdjust="spacingAndGlyphs">2021/08/07,L:,R:,両眼,[左...</text>

<!-- BOTTOM RIGHT CLOCK -->
<rect class="w" x="1911" y="1117" width="14" height="30"/><rect class="g" x="1911" y="1147" width="14" height="30"/><rect class="y" x="1911" y="1177" width="14" height="30"/><rect class="r" x="1911" y="1207" width="14" height="30"/><rect class="o" x="1911" y="1117" width="14" height="120"/>
<path d="M1911,1117h-5M1911,1147h-5M1911,1177h-5M1911,1207h-5M1911,1237h-5" stroke="#444"/>
<g class="n" font-size="15" fill="#222" text-anchor="end"><text x="1902" y="1122">100</text><text x="1902" y="1152">95</text><text x="1902" y="1182">5</text><text x="1902" y="1212">1</text><text x="1902" y="1242">0</text></g>
<text x="1912" y="1248" class="n" font-size="12" fill="#222">[%]</text>
<circle cx="1804" cy="1177" r="44" fill="#7dbd6b"/>
<path d="M1804,1177 L1761.5,1165.6 A44,44 0 0,1 1772.9,1145.9 Z" fill="#e2636f"/>
<path d="M1804,1177 L1792.6,1219.5 A44,44 0 0,1 1761.5,1165.6 Z" fill="#efe85a"/>
<g transform="translate(1804,1177)" stroke="#3a6a3a" stroke-width=".8">
<path d="M11.4,-42.5L-11.4,42.5M31.1,-31.1L-31.1,31.1M42.5,-11.4L-42.5,11.4M42.5,11.4L-42.5,-11.4M31.1,31.1L-31.1,-31.1M11.4,42.5L-11.4,-42.5"/>
</g>
<circle cx="1804" cy="1177" r="44" fill="none" stroke="#a88050" stroke-width="1.5"/>
<circle cx="1804" cy="1177" r="1.5" fill="#222"/>
<g class="n b" font-size="17" text-anchor="middle" fill="#1a1a1a">
<text x="1807" y="1124">170</text><text x="1776" y="1130">106</text><text x="1837" y="1130">135</text><text x="1753" y="1154">35</text><text x="1856" y="1154">96</text><text x="1746" y="1183">33</text><text x="1865" y="1183">65</text><text x="1753" y="1213">37</text><text x="1857" y="1213">100</text><text x="1775" y="1236">71</text><text x="1807" y="1244">119</text><text x="1837" y="1236">166</text>
</g>
<text x="1727" y="1269" class="c" textLength="211" lengthAdjust="spacingAndGlyphs">2021/08/07,L:,R:,両眼,[左眼...</text>

</svg>
</body></html>
